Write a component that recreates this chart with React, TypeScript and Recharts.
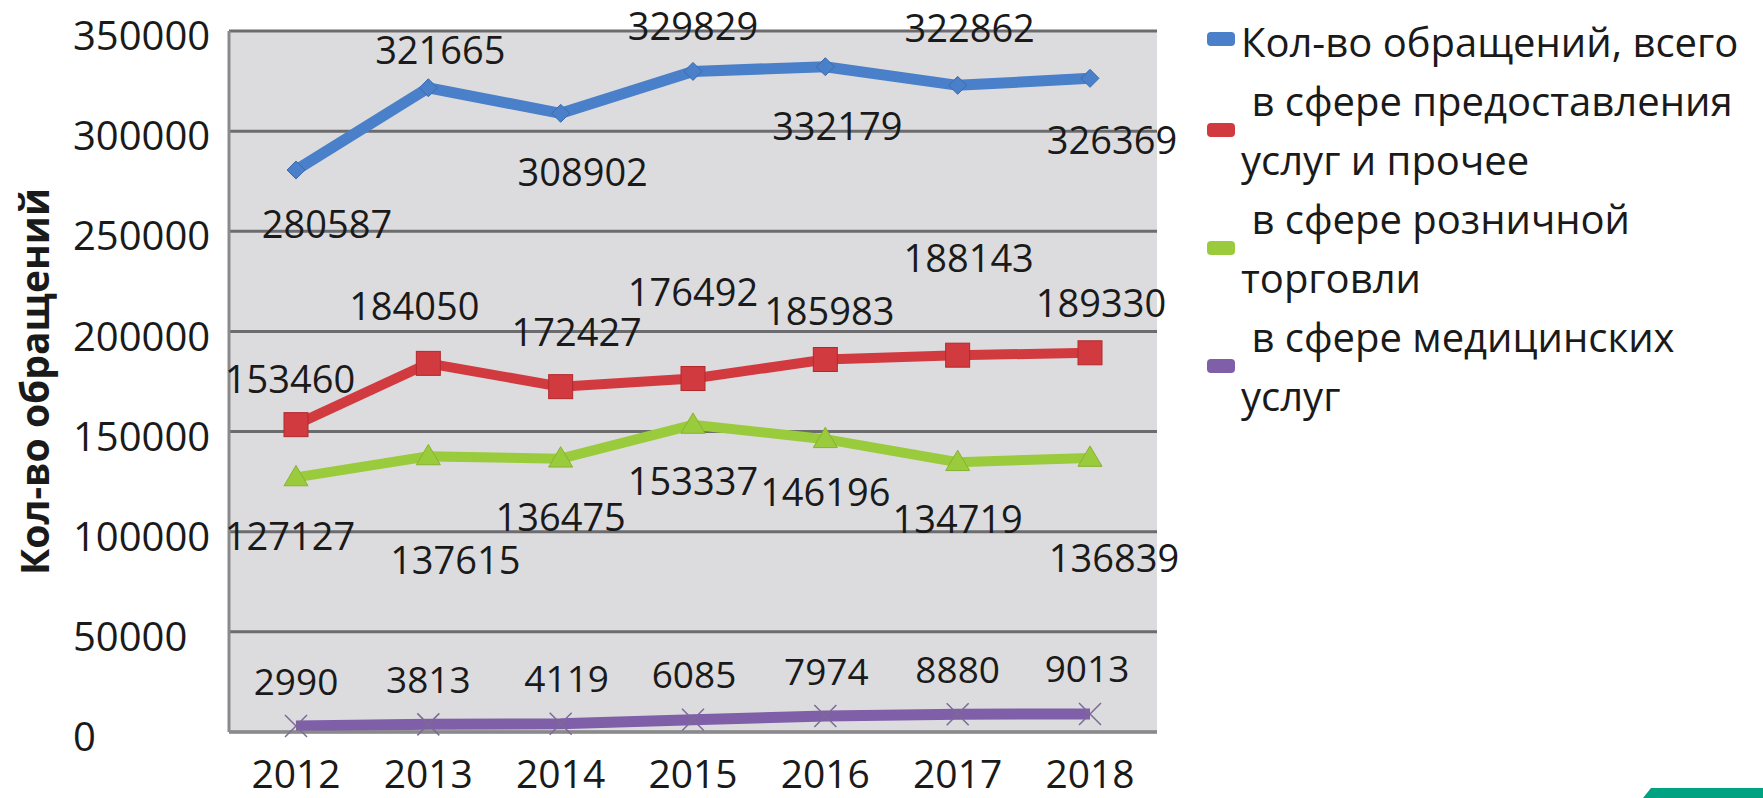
import React from "react"
import { CartesianGrid, LabelList, Line, LineChart, XAxis, YAxis } from "recharts"

const years = ["2012", "2013", "2014", "2015", "2016", "2017", "2018"]
const total = [280587, 321665, 308902, 329829, 332179, 322862, 326369]
const services = [153460, 184050, 172427, 176492, 185983, 188143, 189330]
const retail = [127127, 137615, 136475, 153337, 146196, 134719, 136839]
const medical = [2990, 3813, 4119, 6085, 7974, 8880, 9013]
const yTicks = [0, 50000, 100000, 150000, 200000, 250000, 300000, 350000]

// where each value label sits relative to its point (dx, dy in px)
const totalLabelShift = [[31, 53], [12, -39], [22, 58], [0, -46], [12, 58], [12, -58], [22, 61]]
const servicesLabelShift = [[-6, -47], [-14, -58], [16, -56], [0, -88], [4, -50], [11, -98], [11, -51]]
const retailLabelShift = [[-6, 58], [27, 103], [0, 57], [0, 55], [0, 52], [0, 56], [24, 99]]
const medicalLabelShift = [[0, -46], [0, -46], [6, -46], [1, -46], [1, -46], [0, -46], [-3, -46]]

const data = years.map((year, i) => ({
  year,
  total: total[i],
  services: services[i],
  retail: retail[i],
  medical: medical[i],
}))

const FONT = "'Open Sans', sans-serif"
const BLUE = "#4a7fc9"
const RED = "#d13b40"
const GREEN = "#9acb3c"
const PURPLE = "#7f5fa8"

const legendItems = [
  { color: BLUE, lines: ["Кол-во обращений, всего"] },
  { color: RED, lines: [" в сфере предоставления", "услуг и прочее"] },
  { color: GREEN, lines: [" в сфере розничной", "торговли"] },
  { color: PURPLE, lines: [" в сфере медицинских", "услуг"] },
]

const makeLabel = (shift: number[][], size: number) => (props: any) => {
  const { x, y, value, index } = props
  const [dx, dy] = shift[index] || [0, 0]
  return (
    <text
      x={x + dx}
      y={y + dy}
      textAnchor="middle"
      dominantBaseline="central"
      fontSize={size}
      fontFamily={FONT}
      fill="#1a1a1a"
    >
      {value}
    </text>
  )
}

const Diamond = (props: any) => {
  const { cx, cy } = props
  const r = 9
  return <path d={`M${cx},${cy - r}L${cx + r},${cy}L${cx},${cy + r}L${cx - r},${cy}Z`} fill={BLUE} stroke="#3c6cae" strokeWidth={1} />
}

const Square = (props: any) => {
  const { cx, cy } = props
  const s = 12
  return <rect x={cx - s} y={cy - s} width={s * 2} height={s * 2} fill={RED} stroke="#b3282d" strokeWidth={1} />
}

const Triangle = (props: any) => {
  const { cx, cy } = props
  const r = 12
  return <path d={`M${cx},${cy - r}L${cx + r},${cy + r * 0.7}L${cx - r},${cy + r * 0.7}Z`} fill={GREEN} stroke="#86b32e" strokeWidth={1} />
}

const Cross = (props: any) => {
  const { cx, cy } = props
  const r = 11
  return (
    <path
      d={`M${cx - r},${cy - r}L${cx + r},${cy + r}M${cx + r},${cy - r}L${cx - r},${cy + r}`}
      stroke="#7c6a96"
      strokeWidth={1.5}
      fill="none"
    />
  )
}

const ChartLegend = () => (
  <div
    style={{
      position: "absolute",
      left: 1207,
      top: 12,
      fontFamily: FONT,
      fontSize: 40,
      color: "#1a1a1a",
      lineHeight: "59px",
    }}
  >
    {legendItems.map((item) => (
      <div key={item.lines[0]} style={{ position: "relative", paddingLeft: 34, whiteSpace: "pre" }}>
        <span
          style={{
            position: "absolute",
            left: 0,
            top: (item.lines.length * 59) / 2 - 7 - (item.lines.length === 1 ? 3 : 0),
            width: 28,
            height: 14,
            borderRadius: 4,
            background: item.color,
          }}
        />
        {item.lines.map((l) => (
          <div key={l}>{l}</div>
        ))}
      </div>
    ))}
  </div>
)

export default function App() {
  return (
    <div style={{ width: 1763, height: 798, background: "#fff", position: "relative" }}>
      <style>{"body{margin:0}"}</style>
      <LineChart width={1763} height={798} data={data} margin={{ top: 31, right: 606, bottom: 0, left: 0 }}>
        <CartesianGrid horizontal vertical={false} stroke="#6c6c6e" strokeWidth={3} fill="#dcdcde" />
        <XAxis
          dataKey="year"
          padding={{ left: 67, right: 67 }}
          height={66}
          interval={0}
          tickLine={false}
          tickSize={6}
          tickMargin={22}
          axisLine={{ stroke: "#8a8a8c", strokeWidth: 3 }}
          tick={{ fontSize: 39, fontFamily: FONT, fill: "#1a1a1a" }}
        />
        <YAxis
          width={229}
          domain={[0, 350000]}
          ticks={yTicks}
          interval={0}
          tickLine={false}
          tickSize={6}
          tickMargin={11}
          axisLine={{ stroke: "#8a8a8c", strokeWidth: 3 }}
          tick={{ fontSize: 40, fontFamily: FONT, fill: "#1a1a1a", dy: 5, dx: -139, textAnchor: "start" }}
          label={{
            value: "Кол-во обращений",
            angle: -90,
            position: "insideLeft",
            offset: 0,
            dx: 35,
            style: { fontSize: 39, fontFamily: FONT, fontWeight: 700, fill: "#1a1a1a", textAnchor: "middle" },
          }}
        />
        <Line dataKey="total" stroke={BLUE} strokeWidth={11} dot={<Diamond />} activeDot={false} isAnimationActive={false}>
          <LabelList dataKey="total" content={makeLabel(totalLabelShift, 38)} />
        </Line>
        <Line dataKey="services" stroke={RED} strokeWidth={10} dot={<Square />} activeDot={false} isAnimationActive={false}>
          <LabelList dataKey="services" content={makeLabel(servicesLabelShift, 38)} />
        </Line>
        <Line dataKey="retail" stroke={GREEN} strokeWidth={10} dot={<Triangle />} activeDot={false} isAnimationActive={false}>
          <LabelList dataKey="retail" content={makeLabel(retailLabelShift, 38)} />
        </Line>
        <Line dataKey="medical" stroke={PURPLE} strokeWidth={11} dot={<Cross />} activeDot={false} isAnimationActive={false}>
          <LabelList dataKey="medical" content={makeLabel(medicalLabelShift, 37)} />
        </Line>
      </LineChart>
      <ChartLegend />
      <div
        style={{
          position: "absolute",
          right: 0,
          bottom: 0,
          width: 120,
          height: 10,
          background: "#00a381",
          clipPath: "polygon(8px 0, 100% 0, 100% 100%, 0 100%)",
        }}
      />
    </div>
  )
}
